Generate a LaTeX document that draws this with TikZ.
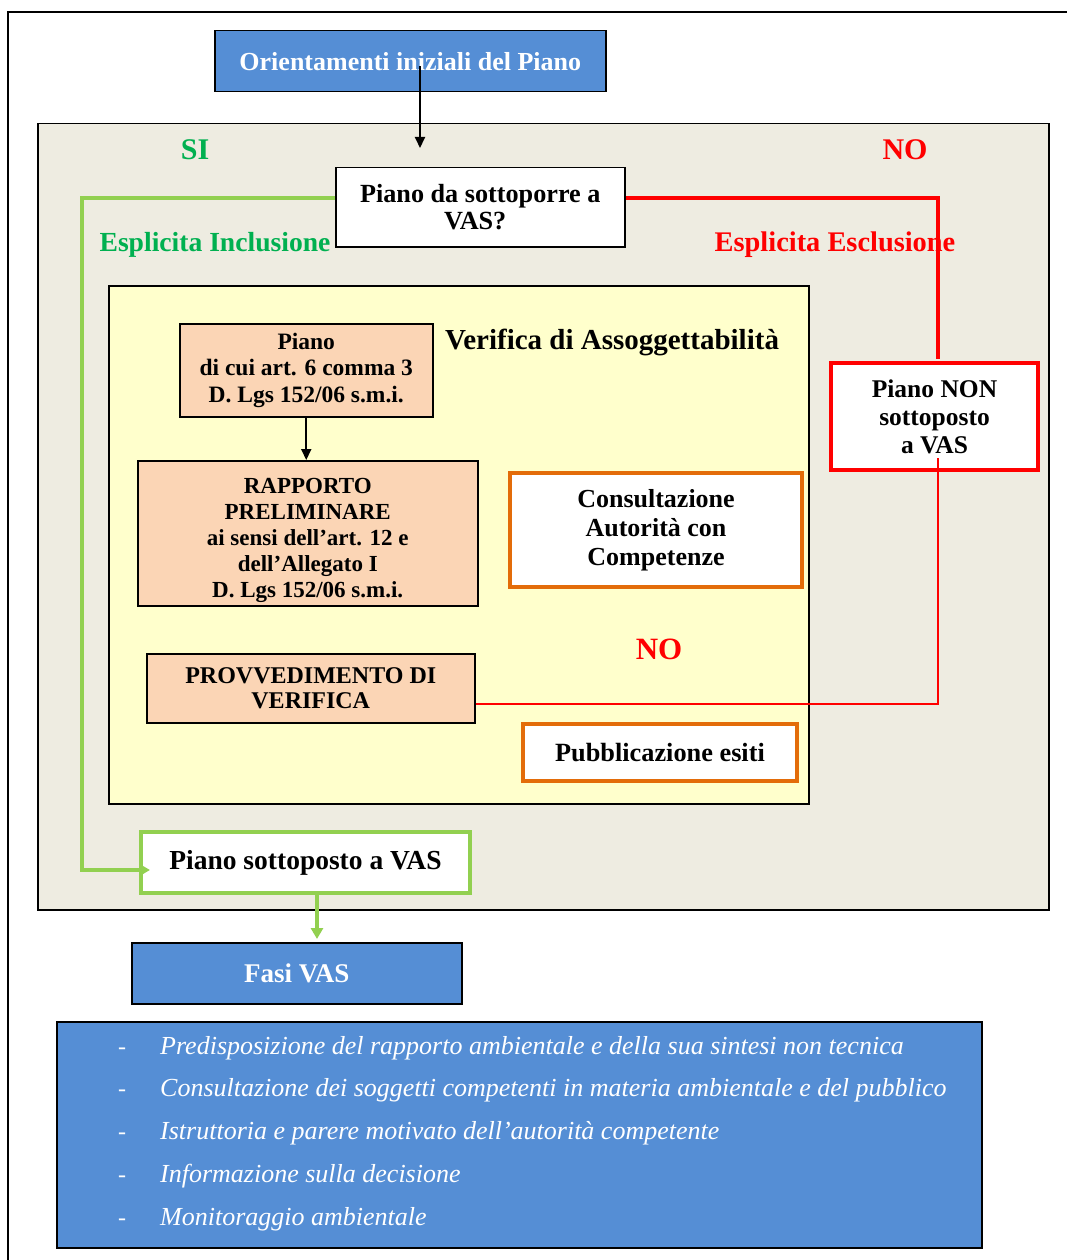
\documentclass[tikz,border=0pt]{standalone}
\usepackage{fontspec}
\setmainfont{Liberation Serif}
\usetikzlibrary{arrows.meta,calc}
\definecolor{vblue}{RGB}{85,142,213}
\definecolor{beige}{RGB}{238,236,225}
\definecolor{lyellow}{RGB}{255,255,204}
\definecolor{peach}{RGB}{251,213,181}
\definecolor{dorange}{RGB}{227,108,9}
\definecolor{lgreen}{RGB}{146,208,80}
\definecolor{dgreen}{RGB}{0,176,80}
\definecolor{vred}{RGB}{255,0,0}
\begin{document}
\begin{tikzpicture}[x=1pt,y=-1pt,
  box/.style={draw=black, line width=1.5pt, anchor=north west, inner sep=0pt, align=center,
    font=\bfseries\fontsize{26}{28}\selectfont},
  obox/.style={box, draw=dorange, line width=4pt, fill=white},
  lbl/.style={font=\bfseries\fontsize{28}{30}\selectfont},
  arr/.style={line width=2pt, -{Triangle[length=11pt,width=10pt]}},
  garr/.style={draw=lgreen, line width=4pt, -{Triangle[length=11pt,width=12pt]}},
]
\useasboundingbox (0,0) rectangle (1067,1260);
\fill[white] (0,0) rectangle (1067,1260);
\draw[line width=1.5pt] (8,1260) -- (8,12) -- (1067,12);

% containers
\node[box, fill=beige, minimum width=1011pt, minimum height=786pt] (outer) at (37,123) {};
\node[box, fill=lyellow, minimum width=700pt, minimum height=518pt] (verif) at (108,285) {};

% boxes
\node[box, fill=vblue, text=white, minimum width=391pt, minimum height=61pt, font=\bfseries\fontsize{26}{28}\selectfont] (orient) at (214,30) {Orientamenti iniziali del Piano};
\node[box, fill=white, minimum width=289pt, minimum height=79pt, font=\bfseries\fontsize{26.2}{27}\selectfont] (q) at (335,167) {Piano da sottoporre a\\VAS?\hspace*{10pt}};
\node[box, fill=peach, minimum width=253pt, minimum height=93pt, font=\bfseries\fontsize{23.5}{26.5}\selectfont] (piano) at (179,323) {Piano\\di cui art. 6 comma 3\\D. Lgs 152/06 s.m.i.};
\node[box, fill=peach, minimum width=340pt, minimum height=145pt, font=\bfseries\fontsize{23}{26}\selectfont] (rapp) at (137,460) {\rule{0pt}{30pt}RAPPORTO\\PRELIMINARE\\ai sensi dell’art. 12 e\\dell’Allegato I\\D. Lgs 152/06 s.m.i.};
\node[obox, minimum width=292pt, minimum height=114pt, font=\bfseries\fontsize{26}{29}\selectfont] (cons) at (508,471) {Consultazione\\Autorità con\\Competenze};
\node[box, fill=peach, minimum width=328pt, minimum height=69pt, font=\bfseries\fontsize{24}{25}\selectfont] (prov) at (146,653) {PROVVEDIMENTO DI\\VERIFICA};
\node[box, draw=vred, line width=4pt, fill=white, minimum width=207pt, minimum height=107pt, font=\bfseries\fontsize{25.5}{28}\selectfont] (non) at (829,361) {Piano NON\\sottoposto\\a VAS};
\node[obox, minimum width=274pt, minimum height=57pt, font=\bfseries\fontsize{26.3}{28}\selectfont] (pub) at (521,722) {Pubblicazione esiti};
\node[box, draw=lgreen, line width=4pt, fill=white, minimum width=329pt, minimum height=61pt, font=\bfseries\fontsize{27.5}{30}\selectfont] (sott) at (139,830) {Piano sottoposto a VAS};
\node[box, fill=vblue, text=white, minimum width=330pt, minimum height=61pt, font=\bfseries\fontsize{27}{28}\selectfont] (fasi) at (131,942) {Fasi VAS};
\node[box, fill=vblue, minimum width=925pt, minimum height=226pt] (list) at (56,1021) {};

% labels
\node[lbl, text=dgreen, font=\bfseries\fontsize{30}{30}\selectfont] (si) at (195,150) {SI};
\node[lbl, text=vred, font=\bfseries\fontsize{30}{30}\selectfont] (no1) at (905,150) {NO};
\node[lbl, text=dgreen, font=\bfseries\fontsize{27.6}{30}\selectfont] (incl) at (215,245) {Esplicita Inclusione};
\node[lbl, text=vred, font=\bfseries\fontsize{28.4}{30}\selectfont] (escl) at (835,245) {Esplicita Esclusione};
\node[lbl, font=\bfseries\fontsize{29}{30}\selectfont] (vtitle) at (612,342) {Verifica di Assoggettabilità};
\node[lbl, text=vred, font=\bfseries\fontsize{31}{30}\selectfont] (no2) at (659,649) {NO};

% list items
\foreach \t [count=\i] in {Predisposizione del rapporto ambientale e della sua sintesi non tecnica,
  Consultazione dei soggetti competenti in materia ambientale e del pubblico,
  Istruttoria e parere motivato dell’autorità competente,
  Informazione sulla decisione,
  Monitoraggio ambientale}{
  \node[anchor=base west, text=white, font=\fontsize{24}{26}\selectfont, inner sep=0pt] (dash\i) at (118,{1054+(\i-1)*42.75}) {-};
  \node[anchor=base west, text=white, font=\itshape\fontsize{26}{30}\selectfont, inner sep=0pt] (item\i) at (160,{1054+(\i-1)*42.75}) {\t};
}

% connectors
\draw[arr] ($(orient.south west)+(206,-26)$) -- ($(q.north west)+(85,-19)$);
\draw[garr] ($(q.north west)+(0,31)$) -- ++(-253,0) |- ($(sott.north west)+(11,40)$);
\draw[draw=vred, line width=4pt] ($(q.north east)+(0,31)$) -| ($(non.north)+(3.5,-2)$);
\draw[arr] (piano.south) -- (piano.south |- rapp.north);
\draw[draw=vred, line width=2pt] ($(prov.south east)+(0,-20)$) -| ($(non.south)+(3.5,-14)$);
\draw[garr] ($(sott.south west)+(178,0)$) -- ($(fasi.north west)+(186,-3)$);
\end{tikzpicture}
\end{document}
